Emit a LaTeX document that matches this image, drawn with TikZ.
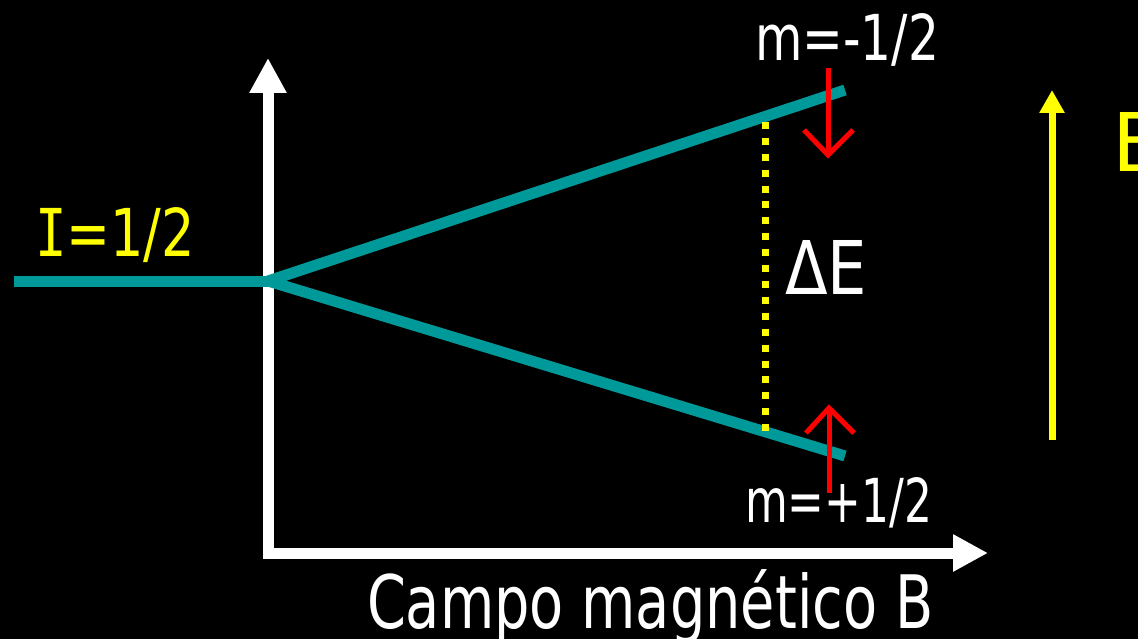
\documentclass[tikz,border=0pt]{standalone}
\usepackage{fontspec}
\setmainfont{DejaVu Sans}
\newfontfamily\serifI{DejaVu Sans Mono}
\usepackage{graphicx}
\usetikzlibrary{arrows.meta,calc}
\definecolor{tealline}{RGB}{0,153,153}
\definecolor{yel}{RGB}{255,255,0}
\definecolor{redd}{RGB}{255,0,0}
\tikzset{
 lbl/.style={anchor=base west, inner sep=0pt, outer sep=0pt},
 axisline/.style={draw=white, line width=11pt, line join=miter},
 level/.style={draw=tealline, line width=11pt},
 spin/.style={draw=redd, line width=5pt, line join=miter},
 gapline/.style={draw=yel, line width=7pt, dash pattern=on 7pt off 8.9pt},
 field/.style={draw=yel, line width=7pt, -{Triangle[length=23pt,width=24pt]}},
}
\begin{document}
\begin{tikzpicture}[x=1pt,y=-1pt]
\fill[black] (0,0) rectangle (1138,639);
\useasboundingbox (0,0) rectangle (1138,639);
\clip (0,0) rectangle (1138,639);
% axes
\coordinate (ytip) at (268,58);
\coordinate (orig) at (268,553);
\coordinate (xtip) at (988,553);
\draw[axisline, {Triangle[length=35pt,width=35pt]}-{Triangle[length=35pt,width=35pt]}] (ytip) -- (orig) -- (xtip);
% energy levels
\coordinate (start) at (14,281);
\coordinate (split) at (268,281);
\coordinate (upE) at (845,90);
\coordinate (loE) at (845,456);
\draw[level] (start) -- (split);
\draw[level] (split) -- (upE);
\draw[level] (split) -- (loE);
% energy gap
\coordinate (gapTop) at (765,122);
\coordinate (gapBot) at (765,433);
\draw[gapline] (gapTop) -- (gapBot);
% spin arrows
\coordinate (dnS) at (828,68);
\coordinate (dnT) at (828,155);
\draw[spin] (dnS) -- (dnT);
\draw[spin] ($(dnT)+(-24,-25)$) -- (dnT) -- ($(dnT)+(25,-25)$);
\coordinate (upS) at (829,493);
\coordinate (upT) at (829,408);
\draw[spin] (upS) -- (upT);
\draw[spin] ($(upT)+(-23,25)$) -- (upT) -- ($(upT)+(25,25)$);
% field arrow
\coordinate (fS) at (1052,440);
\coordinate (fT) at (1052,90);
\draw[field] (fS) -- (fT);
% labels
\node[lbl, text=white] (mminus) at (755,61) {\resizebox{184pt}{47pt}{m=-1/2}};
\node[lbl, text=white] (mplus) at (745,522) {\resizebox{187pt}{45pt}{m=+1/2}};
\node[lbl, text=yel] (spinI) at (35,257) {\resizebox{160pt}{49pt}{{\serifI I}=1/2}};
\node[lbl, text=white] (dE) at (785,294) {\resizebox{82pt}{54pt}{ΔE}};
\node[lbl, text=white] (xlabel) at (367,628) {\resizebox{566pt}{56pt}{Campo magn\smash{é}tico B}};
\node[lbl, text=yel] (Blabel) at (1112,172) {\resizebox{!}{59pt}{B}};
\end{tikzpicture}
\end{document}
